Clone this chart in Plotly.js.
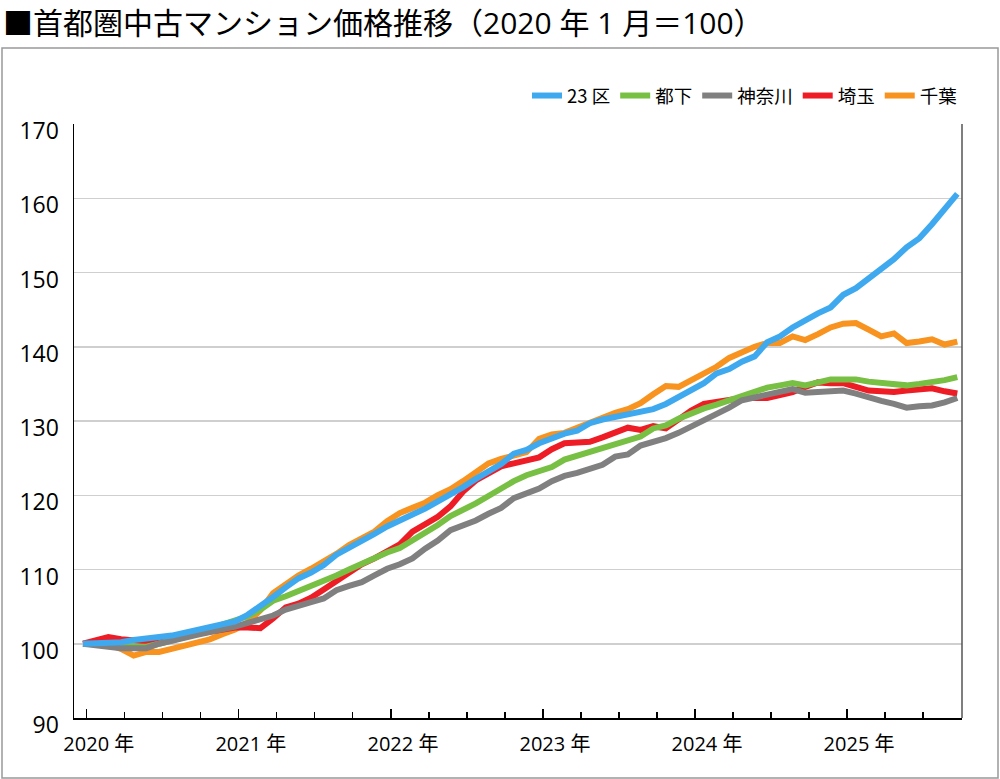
<!DOCTYPE html>
<html>
<head>
<meta charset="utf-8">
<script src="https://cdn.plot.ly/plotly-3.0.1.min.js"></script>
<style>
  html, body { margin: 0; padding: 0; background: #fff; }
  #chart { width: 1000px; height: 779px; }
</style>
</head>
<body>
<div id="chart"></div>
<script>
// monthly index, Jan 2020 = 0 ... Oct 2025 = 69
const months = Array.from({ length: 70 }, (_, i) => i);

const yearLabels = ['2020 年', '2021 年', '2022 年', '2023 年', '2024 年', '2025 年'];

const seriesNames = ['23 区', '都下', '神奈川', '埼玉', '千葉'];
const seriesColors = ['#3fa9f0', '#77c043', '#808080', '#ee1c25', '#f7931e'];

const ku23 = [
    100.0, 100.0, 100.1, 100.2, 100.5, 100.6, 100.9, 101.1, 101.5, 101.9, 102.2, 102.6,
    103.0, 103.9, 105.0, 106.3, 107.6, 108.8, 109.6, 110.6, 112.0, 112.9, 113.7, 114.8,
    115.8, 116.5, 117.4, 118.2, 119.1, 120.0, 121.1, 122.2, 123.2, 124.2, 125.6, 126.1,
    127.0, 127.7, 128.3, 128.7, 129.7, 130.2, 130.6, 130.9, 131.2, 131.6, 132.3, 133.2,
    134.2, 135.1, 136.4, 137.0, 138.0, 138.7, 140.6, 141.4, 142.6, 143.6, 144.5, 145.3,
    147.0, 147.9, 149.2, 150.4, 151.8, 153.4, 154.6, 156.5, 158.4, 160.6
];
const tokyoTama = [
    100.0, 100.0, 99.9, 99.7, 99.6, 99.6, 100.0, 100.5, 100.9, 101.4, 101.8, 102.6,
    103.1, 103.7, 104.6, 105.8, 106.4, 107.1, 107.6, 108.5, 109.2, 110.0, 110.8, 111.6,
    112.3, 112.9, 113.9, 114.9, 116.0, 117.2, 118.0, 118.9, 119.9, 121.0, 121.9, 122.7,
    123.3, 123.8, 124.8, 125.3, 125.9, 126.3, 126.8, 127.5, 127.9, 129.0, 129.4, 130.3,
    131.1, 131.7, 132.2, 132.8, 133.5, 134.0, 134.5, 134.8, 135.1, 134.8, 135.2, 135.6,
    135.6, 135.6, 135.3, 135.1, 134.9, 134.8, 135.0, 135.2, 135.5, 135.9
];
const kanagawa = [
    100.0, 99.9, 99.6, 99.4, 99.4, 99.4, 100.0, 100.5, 100.8, 101.2, 101.5, 101.9,
    102.3, 102.8, 103.3, 103.8, 104.6, 105.2, 105.6, 106.1, 107.2, 107.8, 108.3, 109.2,
    110.1, 110.7, 111.5, 112.8, 113.9, 115.3, 115.9, 116.6, 117.5, 118.3, 119.6, 120.3,
    120.9, 121.9, 122.6, 123.0, 123.5, 124.1, 125.2, 125.5, 126.7, 127.1, 127.7, 128.4,
    129.2, 130.0, 131.0, 131.8, 132.8, 133.2, 133.5, 133.8, 134.3, 133.8, 133.9, 134.0,
    134.1, 133.7, 133.1, 132.7, 132.3, 131.8, 132.0, 132.1, 132.5, 133.1
];
const saitama = [
    100.0, 100.4, 100.9, 100.6, 100.4, 100.3, 100.5, 100.8, 101.1, 101.5, 101.7, 102.0,
    102.2, 102.2, 102.1, 103.4, 104.9, 105.4, 106.2, 107.3, 108.4, 109.6, 110.7, 111.5,
    112.4, 113.4, 115.1, 116.1, 117.1, 118.5, 120.5, 122.0, 123.0, 123.9, 124.3, 124.6,
    125.1, 126.2, 127.0, 127.1, 127.2, 127.8, 128.5, 129.1, 128.8, 129.3, 129.0, 130.3,
    131.4, 132.3, 132.6, 132.9, 133.1, 133.1, 133.1, 133.5, 133.9, 134.6, 135.2, 135.1,
    135.1, 134.6, 134.1, 134.0, 133.9, 134.1, 134.2, 134.4, 134.0, 133.7
];
const chiba = [
    100.0, 100.0, 99.9, 99.3, 98.4, 98.9, 98.9, 99.3, 99.7, 100.2, 100.6, 101.3,
    101.9, 102.9, 104.5, 106.8, 108.1, 109.2, 110.1, 111.0, 112.1, 113.3, 114.2, 115.1,
    116.5, 117.6, 118.3, 119.0, 120.0, 120.8, 121.9, 123.1, 124.3, 124.9, 125.3, 125.8,
    127.6, 128.2, 128.4, 129.1, 129.6, 130.5, 131.1, 131.6, 132.4, 133.6, 134.7, 134.6,
    135.5, 136.4, 137.3, 138.5, 139.3, 140.0, 140.5, 140.5, 141.4, 140.9, 141.7, 142.6,
    143.1, 143.2, 142.3, 141.4, 141.8, 140.5, 140.7, 141.0, 140.3, 140.7
];

const seriesValues = [ku23, tokyoTama, kanagawa, saitama, chiba];

// year ticks sit a little right of the January point, quarter ticks in between
const TICK_OFFSET = 0.3;
const yearTicks = yearLabels.map((_, k) => k * 12 + TICK_OFFSET);
const quarterTicks = Array.from({ length: 24 }, (_, k) => k * 3 + TICK_OFFSET);

// draw order: orange at the bottom, blue on top
const drawOrder = [4, 3, 1, 2, 0];
const traces = drawOrder.map(idx => ({
    type: 'scatter',
    mode: 'lines',
    x: months,
    y: seriesValues[idx],
    name: seriesNames[idx],
    legendrank: idx + 1,
    line: { color: seriesColors[idx], width: 6 }
}));

const FONT = '"Open Sans", "Noto Sans CJK JP", sans-serif';

// box around the chart, in paper coords (plot area 74..962 x 124..718)
const pw = 888, ph = 594;
const px = v => (v - 74) / pw;
const py = v => (718 - v) / ph;

const layout = {
    width: 1000,
    height: 779,
    paper_bgcolor: '#fff',
    plot_bgcolor: '#fff',
    margin: { l: 74, r: 38, t: 124, b: 61 },
    font: { family: FONT, color: '#000', size: 20 },
    showlegend: true,
    legend: {
        orientation: 'h',
        x: px(962), xanchor: 'right',
        y: py(96), yanchor: 'middle',
        font: { family: '"Noto Sans CJK JP", sans-serif', size: 18.5, color: '#000' },
        itemwidth: 30,
        bgcolor: 'rgba(0,0,0,0)'
    },
    xaxis: {
        range: [-0.71, 69.37],
        tickmode: 'array',
        tickvals: yearTicks,
        ticktext: yearLabels,
        ticks: 'inside',
        ticklen: 9,
        tickwidth: 1.2,
        tickcolor: '#000',
        ticklabelshift: 12,
        ticklabelstandoff: 7,
        tickfont: { family: FONT, size: 20, color: '#000' },
        minor: { tickmode: 'array', tickvals: quarterTicks, ticks: 'inside', ticklen: 6, tickwidth: 1.2, tickcolor: '#000', showgrid: false },
        showgrid: false,
        zeroline: false,
        showline: true,
        linecolor: '#000',
        linewidth: 1.5,
        fixedrange: true
    },
    yaxis: {
        range: [90, 170],
        tickmode: 'linear',
        tick0: 90,
        dtick: 10,
        ticks: '',
        ticklabelstandoff: 9,
        ticklabelshift: 7,
        tickfont: { family: FONT, size: 23, color: '#000' },
        showgrid: true,
        gridcolor: '#cfcfcf',
        gridwidth: 1.5,
        zeroline: false,
        showline: true,
        linecolor: '#000',
        linewidth: 1.5,
        fixedrange: true
    },
    shapes: [
        // right edge of plot area
        { type: 'line', xref: 'paper', yref: 'paper', x0: 1, x1: 1, y0: 0, y1: 1, line: { color: '#555', width: 1.5 } },
        // outer frame
        { type: 'rect', xref: 'paper', yref: 'paper', x0: px(2), x1: px(998), y0: py(778), y1: py(48), line: { color: '#999', width: 1.5 }, layer: 'below' }
    ],
    annotations: [{
        xref: 'paper', yref: 'paper',
        x: px(2), xanchor: 'left',
        y: py(1), yanchor: 'top',
        text: '■首都圏中古マンション価格推移（2020 年 1 月＝100）',
        showarrow: false,
        borderpad: 0,
        font: { family: FONT, size: 30, color: '#000', weight: 400 }
    }]
};

Plotly.newPlot('chart', traces, layout, { displayModeBar: false, staticPlot: true });
</script>
</body>
</html>
